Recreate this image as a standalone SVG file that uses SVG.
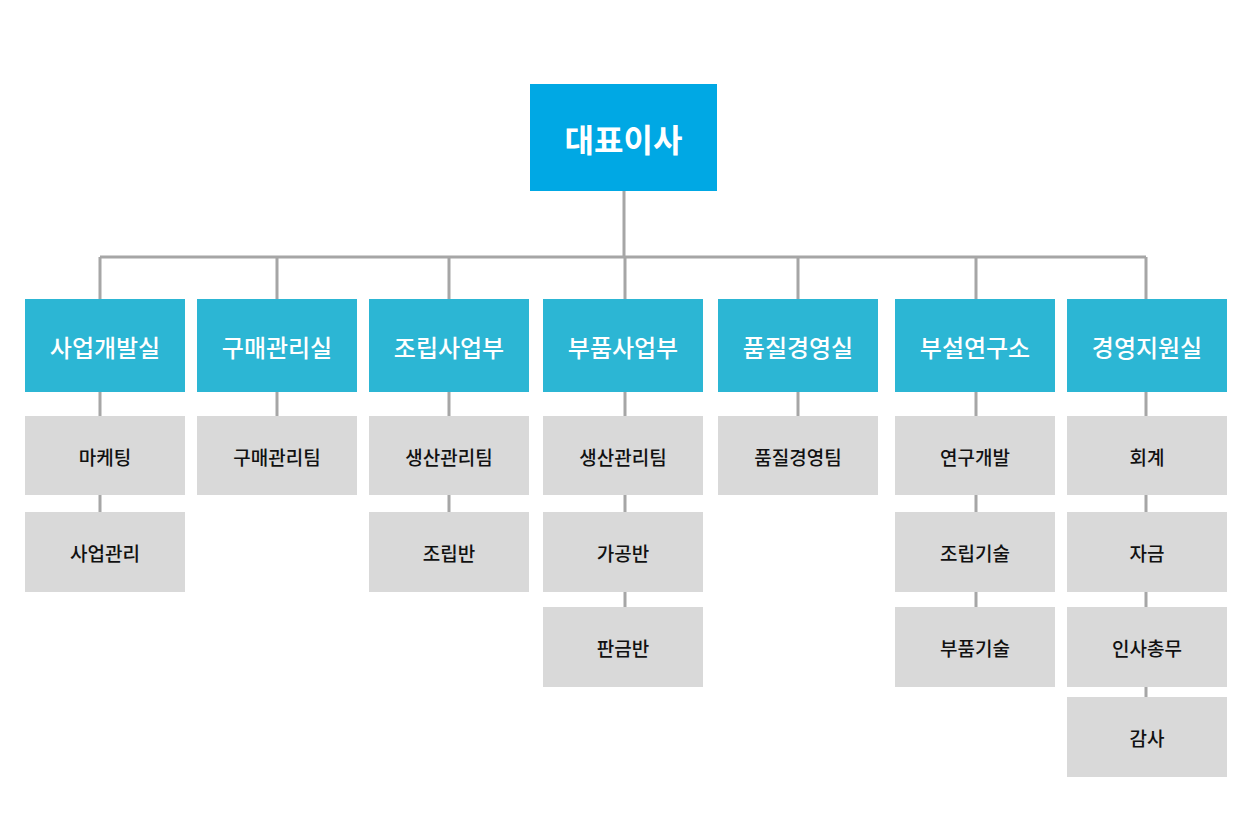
<svg xmlns="http://www.w3.org/2000/svg" width="1255" height="833" viewBox="0 0 1255 833">
<style>
.top{fill:#00a8e4}
.dept{fill:#2cb6d4}
.sub{fill:#d9d9d9}
.ln{stroke:#a6a6a6;stroke-width:3;fill:none}
text{font-family:"Noto Sans CJK KR","Noto Sans",sans-serif;text-anchor:middle;dominant-baseline:central}
.tt{fill:#fff;font-size:32px;font-weight:700}
.dt{fill:#fff;font-size:24px;font-weight:500}
.st{fill:#111;font-size:19px;font-weight:500}
</style>
<rect width="1255" height="833" fill="#fff"/>
<g id="connectors" class="ln">
<path d="M624 191V257M100 257H1146"/>
<path d="M100 257V299M277 257V299M449 257V299M625 257V299M798 257V299M976 257V299M1146 257V299"/>
<path d="M100 392V416M100 495V512"/>
<path d="M277 392V416"/>
<path d="M449 392V416M449 495V512"/>
<path d="M625 392V416M625 495V512M625 592V607"/>
<path d="M798 392V416"/>
<path d="M976 392V416M976 495V512M976 592V607"/>
<path d="M1146 392V416M1146 495V512M1146 592V607M1146 687V697"/>
</g>
<g id="ceo"><rect class="top" x="530" y="84" width="187" height="107"/><text class="tt" x="623.5" y="138">대표이사</text></g>
<g id="d1"><rect class="dept" x="25" y="299" width="160" height="93"/><text class="dt" x="105" y="346">사업개발실</text></g>
<g id="d2"><rect class="dept" x="197" y="299" width="160" height="93"/><text class="dt" x="277" y="346">구매관리실</text></g>
<g id="d3"><rect class="dept" x="369" y="299" width="160" height="93"/><text class="dt" x="449" y="346">조립사업부</text></g>
<g id="d4"><rect class="dept" x="543" y="299" width="160" height="93"/><text class="dt" x="623" y="346">부품사업부</text></g>
<g id="d5"><rect class="dept" x="718" y="299" width="160" height="93"/><text class="dt" x="798" y="346">품질경영실</text></g>
<g id="d6"><rect class="dept" x="895" y="299" width="160" height="93"/><text class="dt" x="975" y="346">부설연구소</text></g>
<g id="d7"><rect class="dept" x="1067" y="299" width="160" height="93"/><text class="dt" x="1147" y="346">경영지원실</text></g>
<g id="s11"><rect class="sub" x="25" y="416" width="160" height="79"/><text class="st" x="105" y="456">마케팅</text></g>
<g id="s12"><rect class="sub" x="25" y="512" width="160" height="80"/><text class="st" x="105" y="552">사업관리</text></g>
<g id="s21"><rect class="sub" x="197" y="416" width="160" height="79"/><text class="st" x="277" y="456">구매관리팀</text></g>
<g id="s31"><rect class="sub" x="369" y="416" width="160" height="79"/><text class="st" x="449" y="456">생산관리팀</text></g>
<g id="s32"><rect class="sub" x="369" y="512" width="160" height="80"/><text class="st" x="449" y="552">조립반</text></g>
<g id="s41"><rect class="sub" x="543" y="416" width="160" height="79"/><text class="st" x="623" y="456">생산관리팀</text></g>
<g id="s42"><rect class="sub" x="543" y="512" width="160" height="80"/><text class="st" x="623" y="552">가공반</text></g>
<g id="s43"><rect class="sub" x="543" y="607" width="160" height="80"/><text class="st" x="623" y="647">판금반</text></g>
<g id="s51"><rect class="sub" x="718" y="416" width="160" height="79"/><text class="st" x="798" y="456">품질경영팀</text></g>
<g id="s61"><rect class="sub" x="895" y="416" width="160" height="79"/><text class="st" x="975" y="456">연구개발</text></g>
<g id="s62"><rect class="sub" x="895" y="512" width="160" height="80"/><text class="st" x="975" y="552">조립기술</text></g>
<g id="s63"><rect class="sub" x="895" y="607" width="160" height="80"/><text class="st" x="975" y="647">부품기술</text></g>
<g id="s71"><rect class="sub" x="1067" y="416" width="160" height="79"/><text class="st" x="1147" y="456">회계</text></g>
<g id="s72"><rect class="sub" x="1067" y="512" width="160" height="80"/><text class="st" x="1147" y="552">자금</text></g>
<g id="s73"><rect class="sub" x="1067" y="607" width="160" height="80"/><text class="st" x="1147" y="647">인사총무</text></g>
<g id="s74"><rect class="sub" x="1067" y="697" width="160" height="80"/><text class="st" x="1147" y="737">감사</text></g>
</svg>
